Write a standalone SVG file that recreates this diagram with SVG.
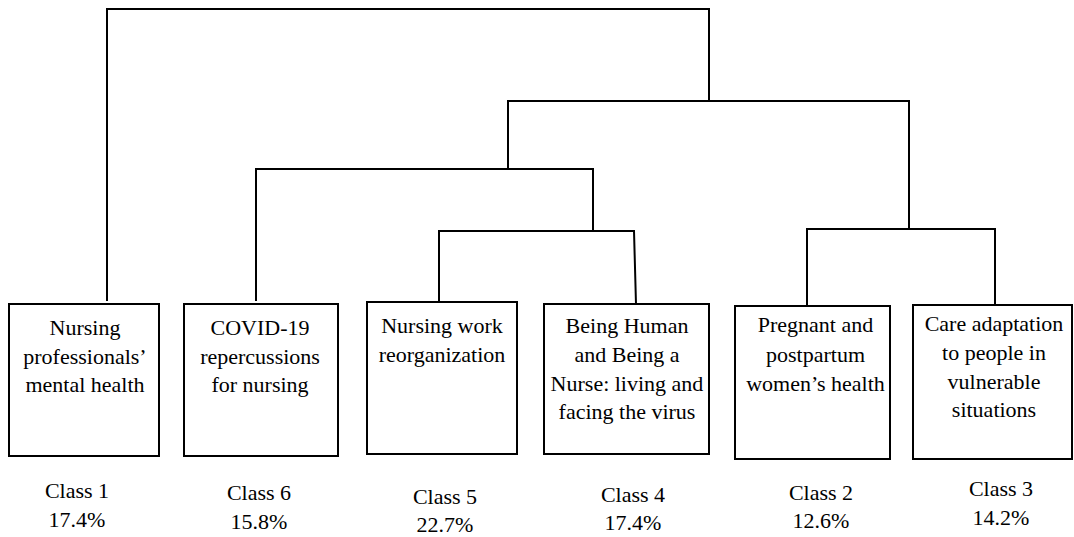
<svg xmlns="http://www.w3.org/2000/svg" width="1074" height="537" viewBox="0 0 1074 537">
<style>
.box{fill:#fff;stroke:#000;stroke-width:2}
.ln{fill:none;stroke:#000;stroke-width:2}
.t{font-family:'Liberation Serif','Times New Roman',serif;font-size:22px;fill:#000;text-anchor:middle}
</style>
<rect width="1074" height="537" fill="#fff"/>
<g id="connectors" class="ln">
<polyline points="107,301 107,9 709,9 709,101"/>
<polyline points="508,169 508,101 909,101 909,229"/>
<polyline points="256,301 256,169 593,169 593,231"/>
<polyline points="439,302 439,231 634,231 636,304"/>
<polyline points="807,306 807,229 995,229 995,305"/>
</g>
<g id="class1" class="t">
<rect class="box" x="9" y="304" width="150" height="152"/>
<text x="85" y="335">Nursing</text>
<text x="85" y="363.5">professionals’</text>
<text x="85" y="392">mental health</text>
<text x="77" y="498">Class 1</text>
<text x="77" y="527">17.4%</text>
</g>
<g id="class6" class="t">
<rect class="box" x="184" y="304" width="154" height="152"/>
<text x="260" y="335">COVID-19</text>
<text x="260" y="363.5">repercussions</text>
<text x="260" y="392">for nursing</text>
<text x="259" y="500">Class 6</text>
<text x="259" y="529">15.8%</text>
</g>
<g id="class5" class="t">
<rect class="box" x="367" y="302" width="150" height="152"/>
<text x="442" y="333">Nursing work</text>
<text x="442" y="361.7">reorganization</text>
<text x="445" y="504">Class 5</text>
<text x="445" y="532">22.7%</text>
</g>
<g id="class4" class="t">
<rect class="box" x="544" y="304" width="165" height="150"/>
<text x="627" y="333">Being Human</text>
<text x="627" y="361.7">and Being a</text>
<text x="627" y="390.7">Nurse: living and</text>
<text x="627" y="419">facing the virus</text>
<text x="633" y="501.7">Class 4</text>
<text x="633" y="530">17.4%</text>
</g>
<g id="class2" class="t">
<rect class="box" x="735" y="306" width="155" height="153"/>
<text x="815.5" y="332.3">Pregnant and</text>
<text x="815.5" y="361.7">postpartum</text>
<text x="815.5" y="390.7">women’s health</text>
<text x="821" y="500">Class 2</text>
<text x="821" y="528">12.6%</text>
</g>
<g id="class3" class="t">
<rect class="box" x="913" y="305" width="159" height="154"/>
<text x="994" y="330.7">Care adaptation</text>
<text x="994" y="360">to people in</text>
<text x="994" y="389">vulnerable</text>
<text x="994" y="416.7">situations</text>
<text x="1001" y="495.7">Class 3</text>
<text x="1001" y="525">14.2%</text>
</g>
</svg>
